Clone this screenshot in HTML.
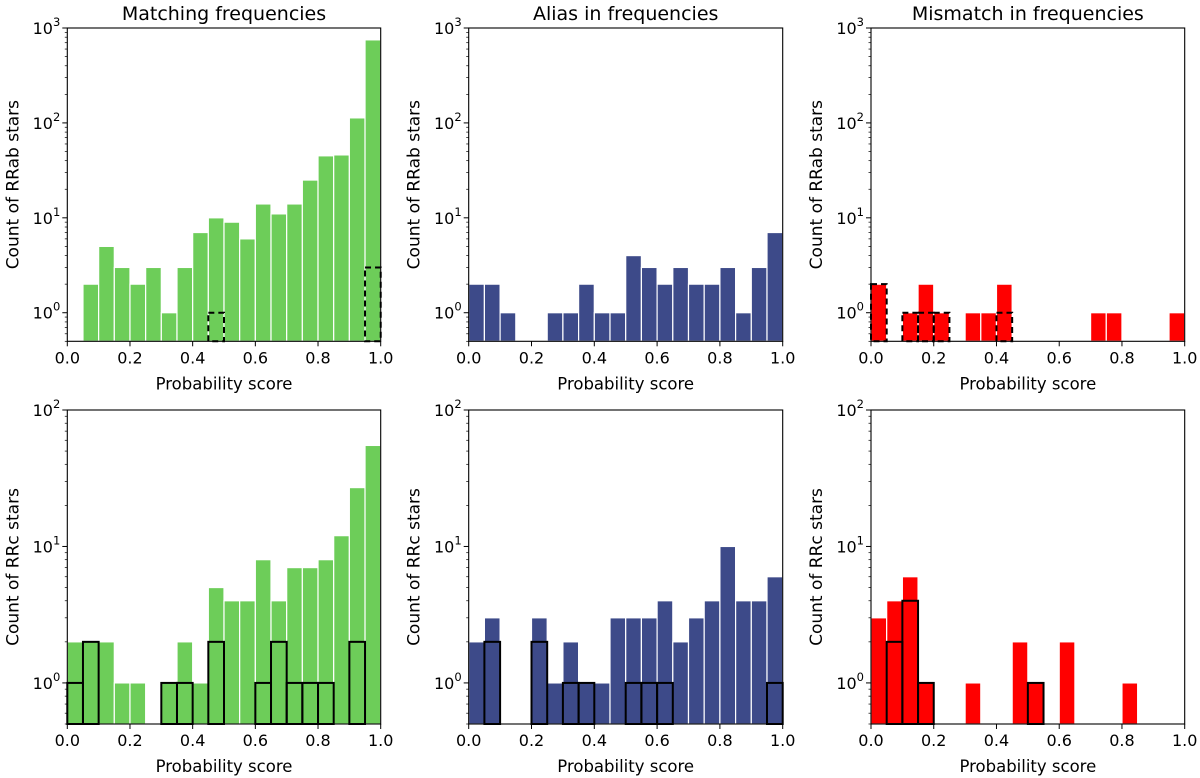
<!DOCTYPE html>
<html><head><meta charset="utf-8"><style>
body{margin:0;background:#fff;}
svg{display:block;font-family:"DejaVu Sans","Liberation Sans",sans-serif;}
</style></head><body>
<svg id="fig" width="1200" height="778" viewBox="0 0 1200 778" xmlns="http://www.w3.org/2000/svg"></svg>
<script>
const binEdges = [0,0.05,0.1,0.15,0.2,0.25,0.3,0.35,0.4,0.45,0.5,0.55,0.6,0.65,0.7,0.75,0.8,0.85,0.9,0.95,1.0];
const xTicks = [0,0.2,0.4,0.6,0.8,1.0];
const xTickLabels = ["0.0","0.2","0.4","0.6","0.8","1.0"];
const titles = ["Matching frequencies","Alias in frequencies","Mismatch in frequencies"];
const matchRRab = [0,2,5,3,2,3,1,3,7,10,9,6,14,11,14,25,45,46,113,750];
const matchRRabOutline = [0,0,0,0,0,0,0,0,0,1,0,0,0,0,0,0,0,0,0,3];
const aliasRRab = [2,2,1,0,0,1,1,2,1,1,4,3,2,3,2,2,3,1,3,7];
const aliasRRabOutline = [0,0,0,0,0,0,0,0,0,0,0,0,0,0,0,0,0,0,0,0];
const misRRab = [2,0,1,2,1,0,1,1,2,0,0,0,0,0,1,1,0,0,0,1];
const misRRabOutline = [2,0,1,1,1,0,0,0,1,0,0,0,0,0,0,0,0,0,0,0];
const matchRRc = [2,2,2,1,1,0,1,2,1,5,4,4,8,4,7,7,8,12,27,55];
const matchRRcOutline = [1,2,0,0,0,0,1,1,0,2,0,0,1,2,1,1,1,0,2,0];
const aliasRRc = [2,3,0,0,3,1,2,1,1,3,3,3,4,2,3,4,10,4,4,6];
const aliasRRcOutline = [0,2,0,0,2,0,1,1,0,0,1,1,1,0,0,0,0,0,0,1];
const misRRc = [3,4,6,1,0,0,1,0,0,2,1,0,2,0,0,0,1,0,0,0];
const misRRcOutline = [0,2,4,1,0,0,0,0,0,0,1,0,0,0,0,0,0,0,0,0];

const NS="http://www.w3.org/2000/svg";
const svg=document.getElementById('fig');
function mk(tag,attrs,parent){const e=document.createElementNS(NS,tag);for(const k in attrs)e.setAttribute(k,attrs[k]);(parent||svg).appendChild(e);return e;}

const cols=[{x0:67.3,x1:380.7},{x0:468.7,x1:782.7},{x0:871,x1:1184.7}];
const rows=[{y0:28,y1:341.3,ymin:0.5,ymax:1000,label:"Count of RRab stars",dash:"6,4"},
            {y0:410,y1:724,ymin:0.5,ymax:100,label:"Count of RRc stars",dash:null}];
const colors=["#6dcd59","#3d4a89","#ff0000"];
const panels=[
 [matchRRab,matchRRabOutline,0,0],[aliasRRab,aliasRRabOutline,1,0],[misRRab,misRRabOutline,2,0],
 [matchRRc,matchRRcOutline,0,1],[aliasRRc,aliasRRcOutline,1,1],[misRRc,misRRcOutline,2,1]];

panels.forEach(([vals,outl,ci,ri],pi)=>{
 const c=cols[ci], r=rows[ri];
 const g=mk('g',{});
 
 
 const X=v=>c.x0+(v-0)*(c.x1-c.x0);
 const lmin=Math.log10(r.ymin), lmax=Math.log10(r.ymax);
 const Y=v=>r.y1-(Math.log10(v)-lmin)/(lmax-lmin)*(r.y1-r.y0);
 vals.forEach((v,i)=>{
  if(v<=0)return;
  const x=X(binEdges[i]), w=X(binEdges[i+1])-x, y=Y(v);
  const b=mk('rect',{x:x,y:y,width:w,height:r.y1-y,fill:colors[ci],stroke:'#fff','stroke-width':1.2},g);
  
  
 });
 outl.forEach((v,i)=>{
  if(v<=0)return;
  const x=X(binEdges[i]), w=X(binEdges[i+1])-x, y=Y(v);
  const a={x:x,y:y,width:w,height:r.y1-y,fill:'none',stroke:'#000','stroke-width':2};
  if(r.dash)a['stroke-dasharray']=r.dash;
  const o=mk('rect',a,g);
  
  
 });
 const f=mk('rect',{x:c.x0,y:r.y0,width:c.x1-c.x0,height:r.y1-r.y0,fill:'none',stroke:'#000','stroke-width':1.1},g);
 
 
 xTicks.forEach((t,i)=>{
  mk('line',{x1:X(t),x2:X(t),y1:r.y1,y2:r.y1+5,stroke:'#000','stroke-width':1},g);
  const tl=mk('text',{x:X(t),y:r.y1+22,'text-anchor':'middle','font-size':16,fill:'#000'},g);
  tl.textContent=xTickLabels[i];
  
  
 });
 for(let d=Math.floor(lmin);d<=lmax;d++){
  for(let m=1;m<10;m++){
   const v=m*Math.pow(10,d);
   if(v<r.ymin-1e-9||v>r.ymax+1e-9)continue;
   const y=Y(v);
   mk('line',{x1:c.x0,x2:c.x0-(m===1?5:2.5),y1:y,y2:y,stroke:'#000','stroke-width':m===1?1:0.7},g);
   if(m===1){
    const tl=mk('text',{x:c.x0-7,y:y+6,'text-anchor':'end','font-size':16,fill:'#000'},g);
    
    
    const t1=mk('tspan',{},tl);t1.textContent='10';
    const t2=mk('tspan',{'font-size':11.5,dy:-8},tl);t2.textContent=String(d);
   }
  }
 }
 const xl=mk('text',{x:(c.x0+c.x1)/2,y:r.y1+48,'text-anchor':'middle','font-size':16.5,fill:'#000'},g);
 xl.textContent='Probability score';
 
 
 const yc=(r.y0+r.y1)/2, yx=c.x0-49;
 const yl=mk('text',{x:yx,y:yc,'text-anchor':'middle','font-size':17,fill:'#000',transform:`rotate(-90 ${yx} ${yc})`},g);
 yl.textContent=r.label;
 
 
 if(ri===0){
  const tt=mk('text',{x:(c.x0+c.x1)/2,y:20,'text-anchor':'middle','font-size':19,fill:'#000'},g);
  tt.textContent=titles[ci];
  
  
 }
});
</script>
</body></html>
